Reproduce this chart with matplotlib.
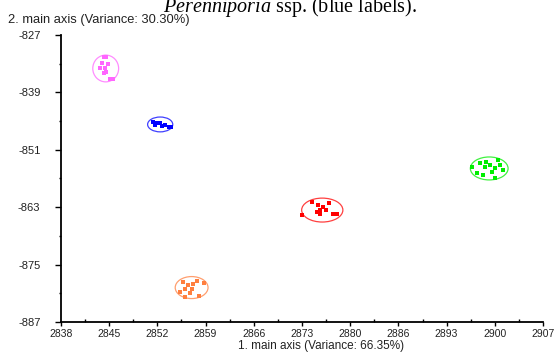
import matplotlib.pyplot as plt
from matplotlib.patches import Ellipse
from matplotlib.ticker import FixedLocator

# Scores of the individual samples on the two main axes
pink_x = [2844.2, 2844.5, 2843.8, 2844.8, 2843.6, 2844.3, 2844.1, 2844.5, 2845.0, 2845.5]
pink_y = [-831.5, -831.5, -832.9, -833.1, -834.0, -834.0, -835.0, -834.7, -836.3, -836.3]

blue_x = [2851.2, 2851.7, 2852.2, 2852.9, 2853.4, 2853.8, 2851.5, 2852.4]
blue_y = [-845.1, -845.5, -845.5, -845.8, -846.3, -846.3, -845.8, -846.0]

red_x = [2872.5, 2874.0, 2874.8, 2875.5, 2875.1, 2876.0, 2874.6, 2875.1, 2877.0, 2877.5, 2876.3]
red_y = [-864.6, -861.9, -862.5, -862.9, -863.6, -863.6, -863.9, -864.5, -864.5, -864.5, -862.2]

green_x = [2896.8, 2898.0, 2898.9, 2899.4, 2900.6, 2900.8, 2900.1, 2901.3, 2897.5, 2898.4,
           2899.7, 2900.1, 2898.7]
green_y = [-854.5, -853.8, -853.5, -854.2, -853.1, -854.2, -854.9, -855.2, -855.9, -856.3,
           -855.6, -856.8, -854.5]

orange_x = [2855.5, 2856.2, 2856.9, 2857.4, 2858.4, 2856.7, 2855.7, 2855.0, 2856.5, 2855.7, 2857.7]
orange_y = [-878.6, -879.3, -879.1, -878.4, -878.9, -880.2, -880.0, -880.7, -881.0, -881.7, -881.6]

# Confidence ellipses: centre x, centre y, width, height
ell_pink = (2844.4, -834.0, 3.7, 5.6)
ell_blue = (2852.2, -845.7, 3.6, 3.1)
ell_red = (2875.4, -863.6, 5.9, 5.0)
ell_green = (2899.3, -854.9, 5.4, 4.8)
ell_orange = (2856.7, -879.8, 4.7, 4.6)

x_ticks = [2838, 2844.9, 2851.8, 2858.7, 2865.6, 2872.5, 2879.4, 2886.3, 2893.2, 2900.1, 2907]
x_labels = ['2838', '2845', '2852', '2859', '2866', '2873', '2880', '2886', '2893', '2900', '2907']
y_ticks = [-887, -875, -863, -851, -839, -827]

plt.rcParams['mathtext.fontset'] = 'custom'
plt.rcParams['mathtext.it'] = 'Liberation Serif:italic'
plt.rcParams['mathtext.rm'] = 'Liberation Serif'

fig = plt.figure(figsize=(5.57, 3.52), dpi=100)
ax = fig.add_axes([0.1095, 0.0852, 0.8654, 0.8154])

groups = [
    (pink_x, pink_y, ell_pink, '#ff66ff'),
    (blue_x, blue_y, ell_blue, '#0000ff'),
    (red_x, red_y, ell_red, '#ff0000'),
    (green_x, green_y, ell_green, '#00ee00'),
    (orange_x, orange_y, ell_orange, '#ff7f3f'),
]
for xs, ys, ell, col in groups:
    ax.plot(xs, ys, 's', color=col, markersize=3, markeredgewidth=0)
    ax.add_patch(Ellipse((ell[0], ell[1]), ell[2], ell[3], fill=False,
                         edgecolor=col, linewidth=0.9, alpha=0.75))

ax.set_xlim(2838, 2907)
ax.set_ylim(-887, -827)
ax.set_xticks(x_ticks)
ax.set_xticklabels(x_labels)
ax.set_yticks(y_ticks)
ax.set_yticklabels([str(v) for v in y_ticks])
ax.xaxis.set_minor_locator(FixedLocator([(a + b) / 2 for a, b in zip(x_ticks[:-1], x_ticks[1:])]))
ax.yaxis.set_minor_locator(FixedLocator([v + 6 for v in y_ticks[:-1]]))

for s in ['top', 'right']:
    ax.spines[s].set_visible(False)
for s in ['left', 'bottom']:
    ax.spines[s].set_linewidth(1.3)

ax.tick_params(axis='x', which='major', direction='out', length=3, width=1, labelsize=7.5,
               labelcolor='#222222', labelfontfamily='Liberation Sans', pad=2)
ax.tick_params(axis='y', which='major', direction='out', length=4.3, width=1, labelsize=8,
               labelcolor='#222222', labelfontfamily='Liberation Sans', pad=10.5)
ax.tick_params(axis='x', which='minor', direction='in', length=2.5, width=1)
ax.tick_params(axis='y', which='minor', direction='out', length=1.6, width=1)

fig.text(0.015, 0.935, '2. main axis (Variance: 30.30%)', fontsize=9.3,
         family='Liberation Sans', color='#222222', va='baseline')
fig.text(0.577, 0.009, '1. main axis (Variance: 66.35%)', fontsize=8.5,
         family='Liberation Sans', color='#222222', ha='center', va='baseline')

fig.text(0.521, 0.966, r'$\mathit{Perenniporia}$ ssp. (blue labels).', fontsize=14.5,
         family='Liberation Serif', ha='center', va='baseline')

fig.savefig('out.png', dpi=100)
